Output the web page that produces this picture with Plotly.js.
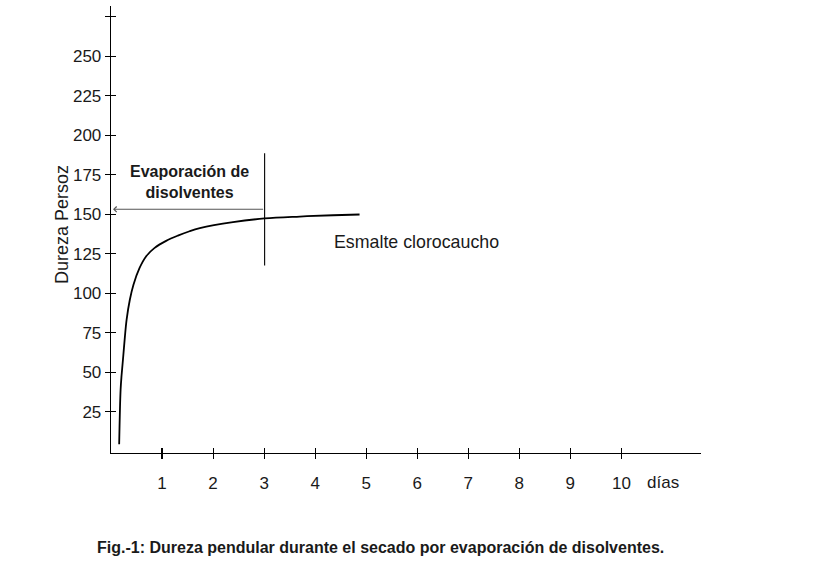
<!DOCTYPE html>
<html>
<head>
<meta charset="utf-8">
<script src="https://cdn.plot.ly/plotly-3.0.1.min.js"></script>
<style>html,body{margin:0;padding:0;background:#fff;}#chart{width:825px;height:563px;}</style>
</head>
<body>
<div id="chart"></div>
<script>
// Data
const dias   = [0.16, 0.188, 0.208, 0.24, 0.273, 0.306, 0.37, 0.44, 0.56, 0.69, 0.855, 1.08, 1.31, 1.54, 1.74, 2.39, 3.01, 3.70, 4.35, 4.87];
const dureza = [4.5, 39.0, 48.5, 60.2, 72.8, 83.4, 96.1, 105.5, 116.1, 123.5, 128.8, 133.2, 136.5, 139.3, 141.2, 145.0, 147.4, 148.6, 149.4, 149.9];

const xTickVals  = [1, 2, 3, 4, 5, 6, 7, 8, 9, 10];
const xTickText  = ["1", "2", "3", "4", "5", "6", "7", "8", "9", "10"];
const yTickVals  = [25, 50, 75, 100, 125, 150, 175, 200, 225, 250, 275];
const yTickText  = ["25", "50", "75", "100", "125", "150", "175", "200", "225", "250", ""];

// End of solvent evaporation marker
const marcaDia      = 3.01;
const marcaDureza   = [117.7, 188.6];
const flechaDureza  = 153.2;
const flechaFinDia  = 0.04;

const serieNombre = "Esmalte clorocaucho";
const etiquetaFase = "Evaporación de<br>disolventes";
const tituloY = "Dureza Persoz";
const unidadX = "días";
const pie = "Fig.-1: Dureza pendular durante el secado por evaporación de disolventes.";

const FONT = "Liberation Sans, Arial, Helvetica, sans-serif";
const INK = "#1a1a1a";
const xRange = [0, 11.56];
const yRange = [-1, 281.8];

const traces = [
  {x: dias, y: dureza, mode: "lines", line: {color: "#000", width: 1.8, shape: "spline", smoothing: 1},
   hoverinfo: "skip", showlegend: false},
  {x: [marcaDia, marcaDia], y: marcaDureza, mode: "lines", line: {color: "#000", width: 1.1},
   hoverinfo: "skip", showlegend: false},
  {x: [xRange[0]], y: [yRange[0]], xaxis: "x2", yaxis: "y2", mode: "markers",
   marker: {opacity: 0}, hoverinfo: "skip", showlegend: false}
];

const axBase = {showgrid: false, zeroline: false, showline: true, linecolor: "#000", linewidth: 1.3,
  tickcolor: "#000", tickwidth: 1.1, ticklen: 5, fixedrange: true};

const layout = {
  width: 825, height: 563,
  margin: {l: 111, r: 124, t: 6, b: 110, pad: 0},
  paper_bgcolor: "#fff", plot_bgcolor: "#fff",
  font: {family: FONT, color: INK, size: 16},
  showlegend: false,
  xaxis: Object.assign({}, axBase, {range: xRange, ticks: "outside", tickmode: "array",
    tickvals: xTickVals, ticktext: xTickText, tickfont: {family: FONT, size: 17, color: INK},
    ticklabelstandoff: 9}),
  yaxis: Object.assign({}, axBase, {range: yRange, ticks: "outside", tickmode: "array",
    tickvals: yTickVals, ticktext: yTickText, tickfont: {family: FONT, size: 17, color: INK},
    ticklabelstandoff: 0}),
  xaxis2: Object.assign({}, axBase, {range: xRange, overlaying: "x", ticks: "inside", tickmode: "array",
    tickvals: xTickVals, showticklabels: false, side: "bottom", showline: false}),
  yaxis2: Object.assign({}, axBase, {range: yRange, overlaying: "y", ticks: "inside", tickmode: "array",
    tickvals: yTickVals, showticklabels: false, side: "left", showline: false}),
  annotations: [
    {x: flechaFinDia, y: flechaDureza, ax: marcaDia, ay: flechaDureza, xref: "x", yref: "y",
     axref: "x", ayref: "y", showarrow: true, arrowhead: 4, arrowsize: 0.9, arrowwidth: 1.2,
     arrowcolor: "#555", standoff: 0, text: ""},
    {x: 1.54, y: 170.4, xref: "x", yref: "y", text: "<b>" + etiquetaFase + "</b>", showarrow: false,
     font: {family: FONT, size: 16, color: INK}, xanchor: "center", yanchor: "middle", align: "center"},
    {x: 4.33, y: 132.8, xref: "x", yref: "y", text: serieNombre, showarrow: false,
     font: {family: FONT, size: 17.8, color: INK}, xanchor: "left", yanchor: "middle"},
    {x: 10.47, y: -0.065, xref: "x", yref: "paper", text: unidadX, showarrow: false,
     font: {family: FONT, size: 17, color: INK}, xanchor: "left", yanchor: "middle"},
    {x: -0.083, y: 0.51, xref: "paper", yref: "paper", text: tituloY, showarrow: false, textangle: -90,
     font: {family: FONT, size: 18, color: INK}, xanchor: "center", yanchor: "middle"},
    {x: 0.456, y: -0.2117, xref: "paper", yref: "paper", text: "<b>" + pie + "</b>", showarrow: false,
     font: {family: "Liberation Sans Narrow, Arial Narrow, Liberation Sans, Arial, sans-serif", size: 16, color: INK},
     xanchor: "center", yanchor: "middle"}
  ]
};

Plotly.newPlot("chart", traces, layout, {displayModeBar: false, staticPlot: true});
</script>
</body>
</html>
